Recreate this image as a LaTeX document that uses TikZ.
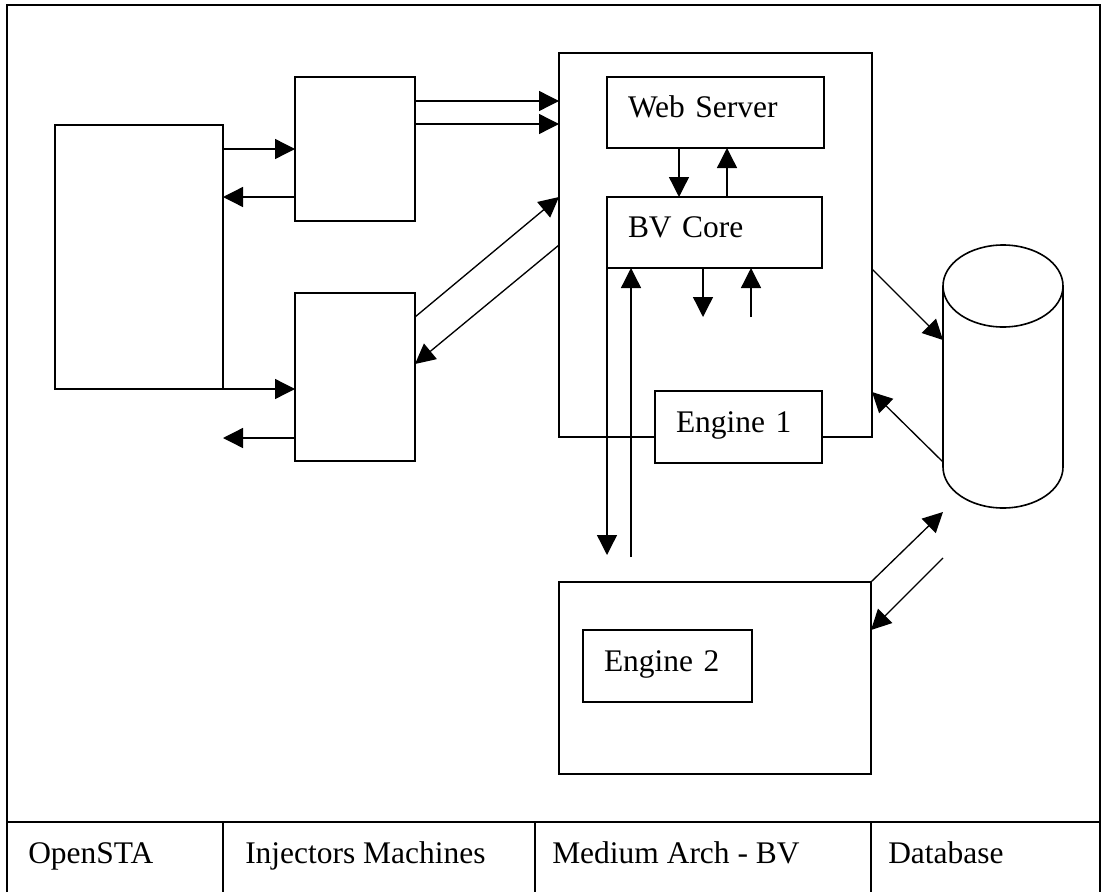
\documentclass[tikz,border=0pt]{standalone}
\usepackage{fontspec}
\setmainfont{Liberation Serif}
\usetikzlibrary{arrows.meta}
\newdimen\pxu
\pxu=0.75pt

\begin{document}
\begin{tikzpicture}
    [
x=0.75pt, y=-0.75pt,
box/.style={draw=black, line width=1.2pt, inner sep=0pt, outer sep=0pt, anchor=north west},
labelbox/.style={box, fill=white, align=left, inner xsep=21\pxu, text height=21\pxu, text depth=11\pxu, font=\fontsize{23.6}{28}\selectfont},
link/.style={line width=1pt, -{Triangle[length=15pt, width=15pt]}},
celltext/.style={anchor=base west, inner sep=0pt, font=\fontsize{23.6}{28}\selectfont}
]
\useasboundingbox (0,0) rectangle (1102,892);

% frame and table
\draw[line width=1.2pt] (7,892) -- (7,5) -- (1100,5) -- (1100,892);
\draw[line width=1.6pt] (7,822) -- (1100,822);
\foreach \x in {223,535,871} \draw[line width=1.2pt] (\x,822) -- (\x,892);

\node[box, minimum width=168\pxu, minimum height=264\pxu] (opensta) at (55,125) {};
\node[box, minimum width=120\pxu, minimum height=144\pxu] (inj1) at (295,77) {};
\node[box, minimum width=120\pxu, minimum height=168\pxu] (inj2) at (295,293) {};
\node[box, minimum width=313\pxu, minimum height=384\pxu] (bvarch) at (559,53) {};
\node[labelbox, text width=175\pxu, minimum height=71\pxu] (websrv) at (607,77) {Web Server};
\node[labelbox, text width=173\pxu, minimum height=71\pxu] (bvcore) at (607,197) {BV Core};
\node[labelbox, text width=125\pxu, minimum height=72\pxu] (engine1) at (655,391) {Engine 1};
\node[box, minimum width=312\pxu, minimum height=192\pxu] (eng2box) at (559,582) {};
\node[labelbox, text width=127\pxu, minimum height=72\pxu] (engine2) at (583,630) {Engine 2};

% database cylinder
\node[box, draw=none, minimum width=120\pxu, minimum height=264\pxu] (db) at (943,244) {};
\draw[line width=1.2pt] (db.west |- 0,286) -- (db.west |- 0,467) arc[start angle=180, end angle=0, x radius=60, y radius=41] -- (db.east |- 0,286);
\draw[line width=1.2pt] (db.north |- 0,286) ellipse [x radius=60, y radius=41];

% free ends
\coordinate (inj2out) at (223,438);
\coordinate (coreout) at (703,317);
\coordinate (corein) at (751,317);
\coordinate (toeng2) at (607,555);
\coordinate (fromeng2) at (631,557);
\coordinate (todb) at (943,512);
\coordinate (fromdb) at (943,558);

\draw[link] (opensta.east |- 0,149) -- (inj1.west |- 0,149);
\draw[link] (inj1.west |- 0,197) -- (opensta.east |- 0,197);
\draw[link] (inj1.east |- 0,101) -- (bvarch.west |- 0,101);
\draw[link] (inj1.east |- 0,124) -- (bvarch.west |- 0,124);
\draw[link] (inj2.east |- 0,317) -- (bvarch.west |- 0,197);
\draw[link] (bvarch.west |- 0,245) -- (inj2.east |- 0,364);
\draw[link] (opensta.south east) -- (inj2.west |- opensta.south east);
\draw[link] (inj2.west |- inj2out) -- (inj2out);

\draw[link] (websrv.south -| 679,0) -- (bvcore.north -| 679,0);
\draw[link] (bvcore.north -| 727,0) -- (websrv.south -| 727,0);
\draw[link] (bvcore.south -| coreout) -- (coreout);
\draw[link] (corein) -- (bvcore.south -| corein);
\draw[link] (bvcore.south west) -- (toeng2);
\draw[link] (fromeng2) -- (bvcore.south -| fromeng2);

\draw[link] (bvarch.east |- 0,269) -- (db.west |- 0,340);
\draw[link] (db.west |- 0,462) -- (bvarch.east |- 0,392);
\draw[link] (eng2box.north east) -- (todb);
\draw[link] (fromdb) -- (eng2box.east |- 0,630);

\node[celltext] (colsta) at (28,863) {OpenSTA};
\node[celltext] (colinj) at (245,863) {Injectors Machines};
\node[celltext] (colarch) at (552,863) {Medium Arch - BV};
\node[celltext] (coldb) at (888,863) {Database};
\end{tikzpicture}
\end{document}
